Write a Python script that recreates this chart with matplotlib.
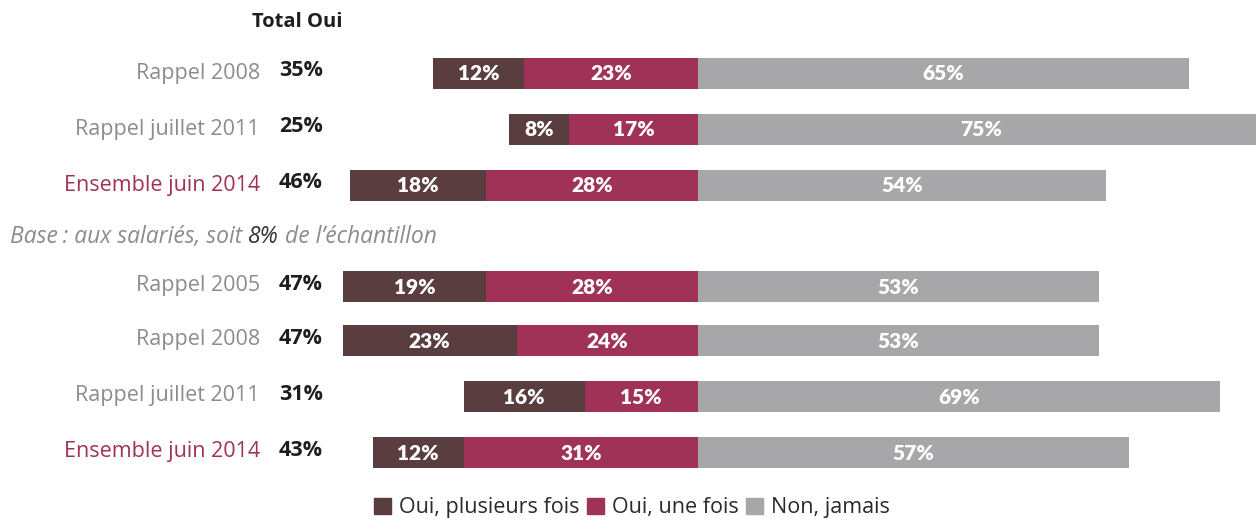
import matplotlib
matplotlib.use("Agg")
import matplotlib.pyplot as plt
from matplotlib.patches import Rectangle

# ---- data ----
row_labels = ["Rappel 2008", "Rappel juillet 2011", "Ensemble juin 2014",
              "Rappel 2005", "Rappel 2008", "Rappel juillet 2011", "Ensemble juin 2014"]
oui_plusieurs = [12, 8, 18, 19, 23, 16, 12]
oui_une = [23, 17, 28, 28, 24, 15, 31]
non_jamais = [65, 75, 54, 53, 53, 69, 57]
total_oui = [35, 25, 46, 47, 47, 31, 43]
highlight = [False, False, True, False, False, False, True]
series_names = ["Oui, plusieurs fois", "Oui, une fois", "Non, jamais"]

# ---- style / layout ----
C_DARK = "#5a3e3f"
C_RED = "#a03157"
C_GREY = "#a7a7aa"
C_LABEL = "#8c8c8e"
FONT = ["Open Sans", "DejaVu Sans"]
W, H = 1256, 521
PX_PER_PCT = 7.56
CENTER_PX = 698
y_pos = [73, 129, 185, 286, 340, 396, 452]
bar_h = 31

fig = plt.figure(figsize=(W / 100, H / 100), dpi=100)
ax = fig.add_axes([0, 0, 1, 1])
ax.set_xlim(-CENTER_PX / PX_PER_PCT, (W - CENTER_PX) / PX_PER_PCT)
ax.set_ylim(H, 0)
ax.axis("off")

def px2x(px):
    return (px - CENTER_PX) / PX_PER_PCT

for i, y in enumerate(y_pos):
    a, b, c = oui_plusieurs[i], oui_une[i], non_jamais[i]
    ax.barh(y, -b, left=0, height=bar_h, color=C_RED, linewidth=0)
    ax.barh(y, -a, left=-b, height=bar_h, color=C_DARK, linewidth=0)
    ax.barh(y, c, left=0, height=bar_h, color=C_GREY, linewidth=0)
    for val, cx in [(a, -b - a / 2), (b, -b / 2), (c, c / 2)]:
        ax.text(cx, y + 1, f"{val}%", ha="center", va="center", color="white",
                fontsize=15, fontweight="heavy", family="Lato")
    ax.text(px2x(260), y, row_labels[i], ha="right", va="center",
            color=C_RED if highlight[i] else C_LABEL, fontsize=15.5, family=FONT)
    ax.text(px2x(279), y - 2, f"{total_oui[i]}%", ha="left", va="center",
            color="#1e1e1e", fontsize=15.5, fontweight="bold", family=FONT)

ax.text(px2x(297), 22, "Total Oui", ha="center", va="center", color="#1e1e1e",
        fontsize=14.5, fontweight="bold", family=FONT)

# base note
NOTE_FS = 16.5
t1 = ax.text(px2x(10), 237, "Base\u202f: aux salariés, soit ", ha="left", va="center",
             color=C_LABEL, fontsize=NOTE_FS, style="italic", family=FONT)
fig.canvas.draw()
bb = t1.get_window_extent()
x_next = ax.transData.inverted().transform((bb.x1, 0))[0]
t2 = ax.text(x_next, 237, "8%", ha="left", va="center", color="#333333",
             fontsize=NOTE_FS, style="italic", family=FONT)
fig.canvas.draw()
bb2 = t2.get_window_extent()
x_next2 = ax.transData.inverted().transform((bb2.x1, 0))[0]
ax.text(x_next2, 237, " de l\u2019échantillon", ha="left", va="center",
        color=C_LABEL, fontsize=NOTE_FS, style="italic", family=FONT)

# legend
handles = [Rectangle((0, 0), 1, 1, color=col) for col in (C_DARK, C_RED, C_GREY)]
leg = fig.legend(handles, series_names, loc="center", bbox_to_anchor=(632 / W, 1 - 508 / H),
                 ncol=3, frameon=False, handlelength=0.8, handleheight=0.8,
                 handletextpad=0.35, columnspacing=0.35,
                 prop={"family": FONT, "size": 15.5})
for t in leg.get_texts():
    t.set_color("#2a2a2a")

fig.savefig("out.png", dpi=100)
